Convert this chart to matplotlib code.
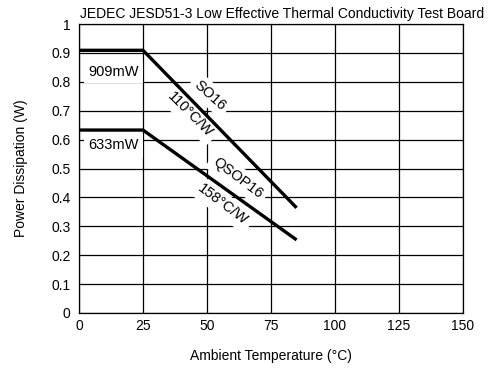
import matplotlib
matplotlib.use("Agg")
import matplotlib.pyplot as plt
from matplotlib import font_manager

# data
so16_temp = [0, 25, 85]
so16_power = [0.909, 0.909, 0.364]
qsop16_temp = [0, 25, 85]
qsop16_power = [0.633, 0.633, 0.253]
x_ticks = [0, 25, 50, 75, 100, 125, 150]
y_ticks = [0, 0.1, 0.2, 0.3, 0.4, 0.5, 0.6, 0.7, 0.8, 0.9, 1]
y_tick_labels = ["0", "0.1", "0.2", "0.3", "0.4", "0.5", "0.6", "0.7", "0.8", "0.9", "1"]

names = {f.name for f in font_manager.fontManager.ttflist}
fam = "Liberation Sans Narrow" if "Liberation Sans Narrow" in names else "Liberation Sans"
plt.rcParams["font.family"] = [fam, "DejaVu Sans"]

fig = plt.figure(figsize=(4.9, 3.73), dpi=100)
ax = fig.add_axes([79 / 490, 1 - 313 / 373, 384 / 490, 289 / 373])

ax.plot(so16_temp, so16_power, color="black", lw=2.4, zorder=4, solid_capstyle="butt")
ax.plot(qsop16_temp, qsop16_power, color="black", lw=2.4, zorder=4, solid_capstyle="butt")

ax.set_xlim(0, 150)
ax.set_ylim(0, 1)
ax.set_xticks(x_ticks)
ax.set_yticks(y_ticks)
ax.set_yticklabels(y_tick_labels)
ax.tick_params(length=0, labelsize=10)
ax.tick_params(axis="x", pad=4)
ax.tick_params(axis="y", pad=6)
ax.grid(True, color="black", lw=0.9, zorder=1)
ax.set_axisbelow(True)
for s in ax.spines.values():
    s.set_linewidth(0.9)

box = dict(facecolor="white", edgecolor="none", pad=3)
ax.text(3.5, 0.834, "909mW", fontsize=10.5, va="center", ha="left", bbox=box, zorder=3)
ax.text(3.5, 0.58, "633mW", fontsize=10.5, va="center", ha="left", bbox=box, zorder=3)
ax.text(51.2, 0.754, "SO16", fontsize=10.5, rotation=-42, ha="center", va="center",
        rotation_mode="anchor", bbox=box, zorder=3)
ax.text(43.4, 0.685, "110°C/W", fontsize=10.5, rotation=-45, ha="center", va="center",
        rotation_mode="anchor", bbox=box, zorder=3)
ax.text(62.1, 0.467, "QSOP16", fontsize=10.5, rotation=-37, ha="center", va="center",
        rotation_mode="anchor", bbox=box, zorder=3)
ax.text(56.3, 0.374, "158°C/W", fontsize=10.5, rotation=-37, ha="center", va="center",
        rotation_mode="anchor", bbox=box, zorder=3)

ax.set_title("JEDEC JESD51-3 Low Effective Thermal Conductivity Test Board",
             fontsize=10, x=0.53, pad=4)
ax.set_xlabel("Ambient Temperature (°C)", fontsize=10, labelpad=12)
ax.set_ylabel("Power Dissipation (W)", fontsize=10, labelpad=17)

fig.savefig("out.png", dpi=100)
